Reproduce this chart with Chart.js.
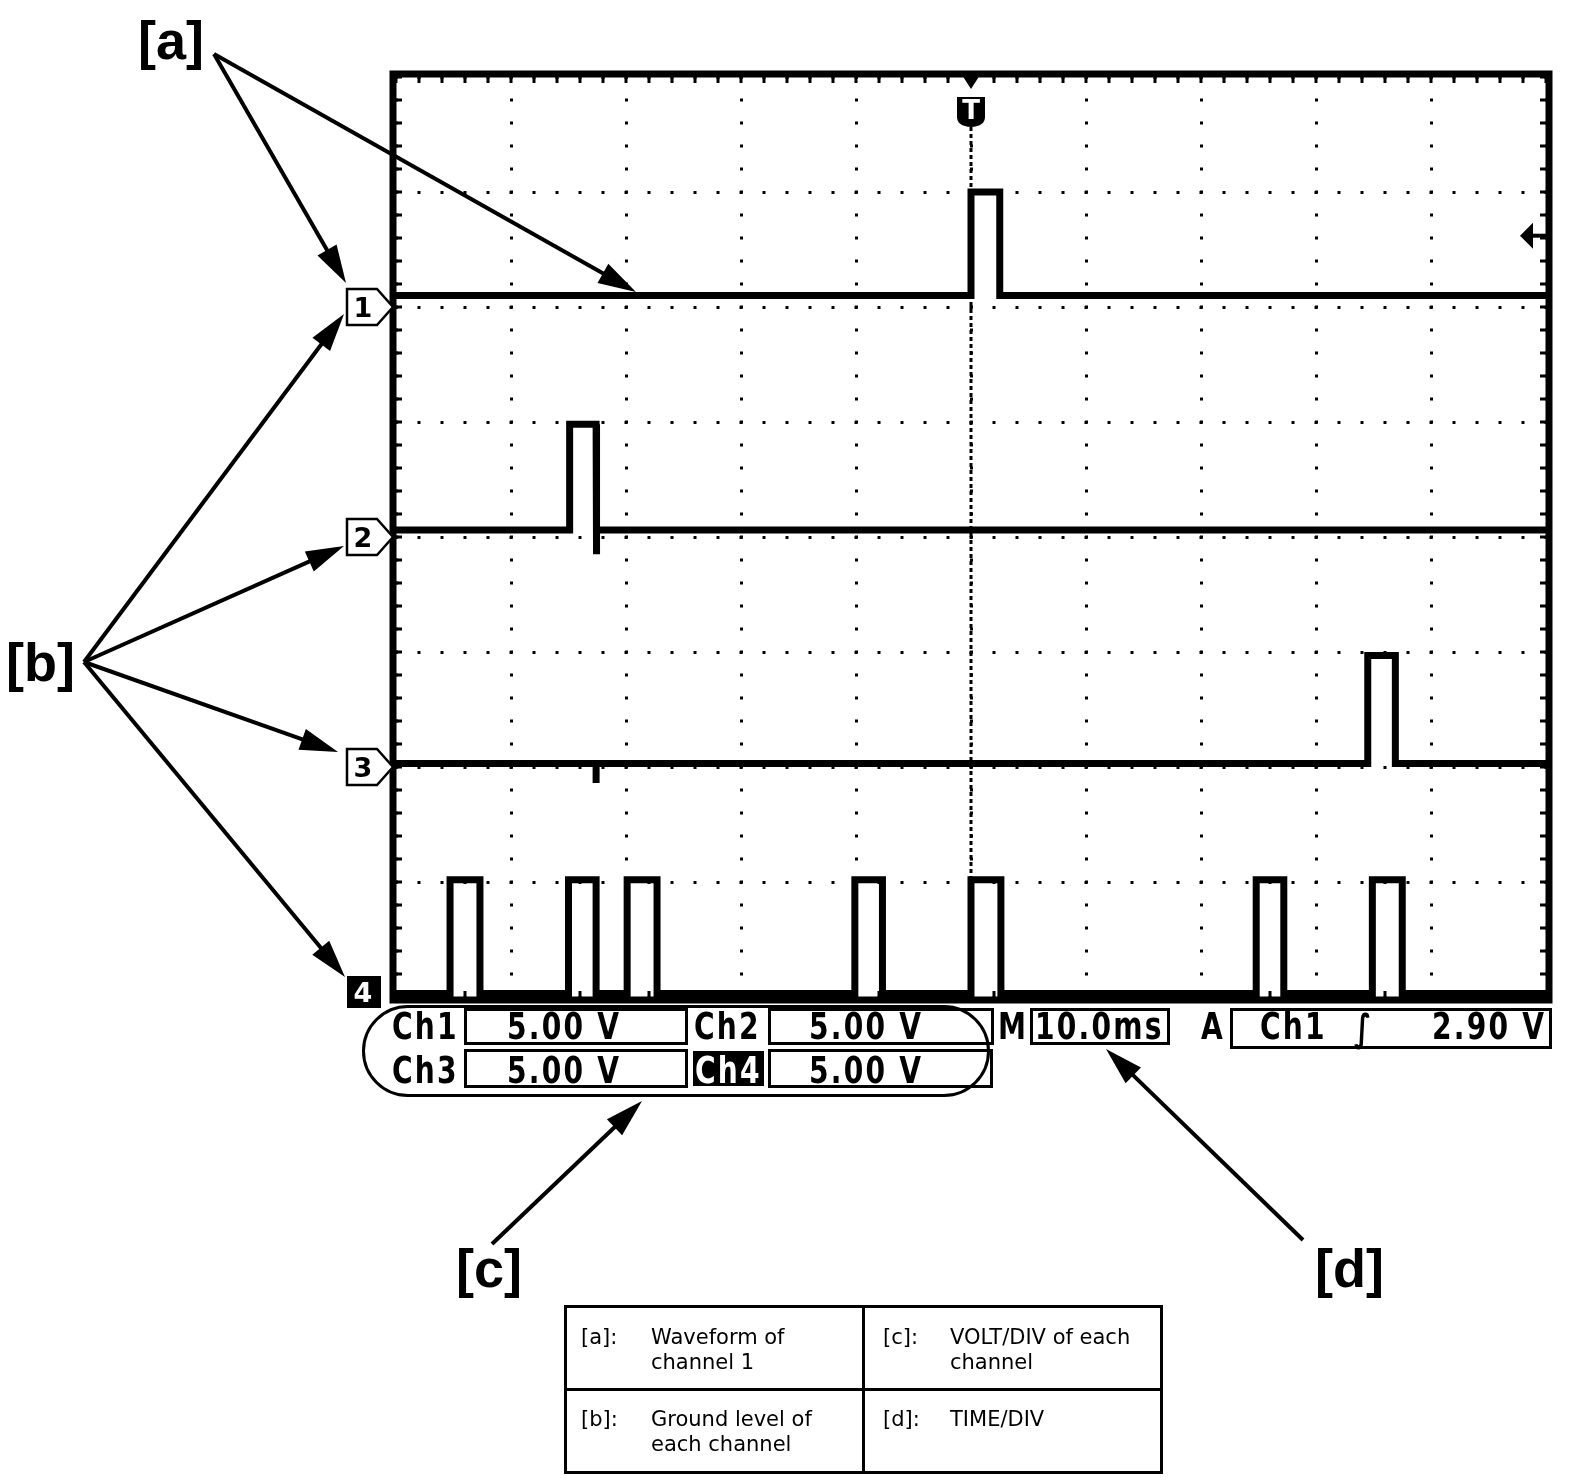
<!DOCTYPE html>
<html>
<head>
<meta charset="utf-8">
<script src="https://cdn.jsdelivr.net/npm/chart.js@4.4.1/dist/chart.umd.min.js"></script>
<style>
  html, body { margin: 0; padding: 0; background: #fff; }
  #wrap { position: relative; width: 1584px; height: 1482px; overflow: hidden; background: #fff; }
  #scope { position: absolute; left: 0; top: 0; width: 1584px; height: 1482px; }
  .txt { position: absolute; white-space: pre; line-height: 1; color: #000; }
  .box { position: absolute; box-sizing: border-box; border: 3px solid #000; }
  .readout { font-weight: bold; letter-spacing: 3px; transform: scaleX(0.74); transform-origin: left center; }
</style>
</head>
<body>
<div id="wrap">
  <canvas id="scope" width="1584" height="1482"></canvas>
</div>
<script>
// Scope capture: 4 channels at 5 V/div, 10 ms/div, trigger on Ch1 rising edge

// x = ms from trigger point, y = screen divisions counted from the bottom
const timeMin = -50;
const timeMax = 50;
const timeStep = 10;
const divMin = 0;
const divMax = 8;

const groundDivs = [6.1, 4.06, 2.03, 0.03];   // trace level when low
const highDivs = [7.0, 4.98, 2.97, 1.02];     // trace level when high
const markerDivs = [6, 4, 2, 0];              // ground markers on the left edge

const ch1Rise = [0.0];
const ch1Fall = [2.5];
const ch2Rise = [-34.9];
const ch2Fall = [-32.6];
const ch3Rise = [34.5];
const ch3Fall = [36.9];
const ch4Rise = [-45.3, -35.0, -29.9, -10.1, 0.0, 24.8, 34.9];
const ch4Fall = [-42.7, -32.6, -27.3, -7.7, 2.6, 27.2, 37.5];

// short spikes under the ground line: [time, level]
const ch2Spikes = [[-32.55, 3.85]];
const ch3Spikes = [[-32.6, 1.86]];

const triggerTime = 0;
const triggerLevelDiv = 6.62;

const channelLabels = ['Ch1', 'Ch2', 'Ch3', 'Ch4'];
const voltsPerDiv = ['5.00 V', '5.00 V', '5.00 V', '5.00 V'];
const timePerDiv = '10.0ms';
const triggerSource = 'Ch1';
const triggerLevel = '2.90 V';

const legendKeys = ['[a]:', '[c]:', '[b]:', '[d]:'];
const legendTexts = ['Waveform of\nchannel 1', 'VOLT/DIV of each\nchannel', 'Ground level of\neach channel', 'TIME/DIV'];

const wrap = document.getElementById('wrap');

function buildTrace(ground, high, rises, falls, spikes) {
    const events = [];
    rises.forEach((r, i) => {
        events.push({ t: r, pts: [[r, ground], [r, high], [falls[i], high], [falls[i], ground]] });
    });
    (spikes || []).forEach(([t, low]) => {
        events.push({ t: t, pts: [[t, ground], [t, low], [t, ground]] });
    });
    events.sort((a, b) => a.t - b.t);

    const data = [{ x: timeMin, y: ground }];
    events.forEach(e => e.pts.forEach(([x, y]) => data.push({ x: x, y: y })));
    data.push({ x: timeMax, y: ground });
    return data;
}

function traceDataset(label, data, width) {
    return {
        label: label,
        data: data,
        borderColor: '#000',
        borderWidth: width,
        pointRadius: 0,
        tension: 0,
        fill: false
    };
}

// text placed by its baseline
function addText(str, x, base, size, opt = {}) {
    const d = document.createElement('div');
    d.className = 'txt' + (opt.readout ? ' readout' : '');
    d.textContent = str;
    d.style.fontSize = size + 'px';
    d.style.fontFamily = opt.family || '"DejaVu Sans", sans-serif';
    if (opt.bold) d.style.fontWeight = 'bold';
    if (opt.color) d.style.color = opt.color;
    d.style.top = (base - 0.846 * size) + 'px';
    if (opt.center) {
        d.style.left = (x - 100) + 'px';
        d.style.width = '200px';
        d.style.textAlign = 'center';
    } else {
        d.style.left = x + 'px';
    }
    wrap.appendChild(d);
    return d;
}

function addBox(x1, y1, x2, y2, opt = {}) {
    const d = document.createElement('div');
    d.className = 'box';
    d.style.left = x1 + 'px';
    d.style.top = y1 + 'px';
    d.style.width = (x2 - x1) + 'px';
    d.style.height = (y2 - y1) + 'px';
    if (opt.fill) d.style.background = opt.fill;
    if (opt.radius) d.style.borderRadius = opt.radius + 'px';
    if (opt.border !== undefined) d.style.borderWidth = opt.border + 'px';
    wrap.appendChild(d);
    return d;
}

function drawArrow(ctx, x1, y1, x2, y2) {
    const ang = Math.atan2(y2 - y1, x2 - x1);
    const len = 38, half = 11;
    const bx = x2 - len * Math.cos(ang);
    const by = y2 - len * Math.sin(ang);
    ctx.lineWidth = 4;
    ctx.beginPath();
    ctx.moveTo(x1, y1);
    ctx.lineTo(bx + 4 * Math.cos(ang), by + 4 * Math.sin(ang));
    ctx.stroke();
    ctx.beginPath();
    ctx.moveTo(x2, y2);
    ctx.lineTo(bx + half * Math.sin(ang), by - half * Math.cos(ang));
    ctx.lineTo(bx - half * Math.sin(ang), by + half * Math.cos(ang));
    ctx.closePath();
    ctx.fill();
}

// annotation arrows: [from, to] in page pixels
const annotationArrows = [
    [214, 54, 346, 283],
    [214, 54, 636, 292],
    [84, 662, 344, 314],
    [84, 662, 344, 546],
    [84, 662, 338, 752],
    [84, 662, 345, 977],
    [492, 1244, 642, 1101],
    [1303, 1240, 1106, 1049]
];

const scopeDecor = {
    id: 'scopeDecor',
    beforeDatasetsDraw(chart) {
        const ctx = chart.ctx;
        const area = chart.chartArea;
        const tx = chart.scales.x.getPixelForValue(triggerTime);
        // dense dashed line at the trigger position
        ctx.save();
        ctx.strokeStyle = '#000';
        ctx.lineWidth = 3;
        ctx.setLineDash([4, 3]);
        ctx.beginPath();
        ctx.moveTo(tx, area.top + 50);
        ctx.lineTo(tx, area.bottom);
        ctx.stroke();
        ctx.restore();
    },
    afterDatasetsDraw(chart) {
        const ctx = chart.ctx;
        const area = chart.chartArea;
        const xs = chart.scales.x;
        const ys = chart.scales.y;
        ctx.save();
        ctx.strokeStyle = '#000';
        ctx.fillStyle = '#000';

        // minor ticks on the inner side of the frame, 5 per division
        const minorX = (xs.right - xs.left) / ((timeMax - timeMin) / timeStep * 5);
        const minorY = (ys.bottom - ys.top) / ((divMax - divMin) * 5);
        ctx.lineWidth = 3;
        ctx.beginPath();
        for (let x = area.left; x <= area.right + 1; x += minorX) {
            ctx.moveTo(x, area.top); ctx.lineTo(x, area.top + 6);
            ctx.moveTo(x, area.bottom); ctx.lineTo(x, area.bottom - 6);
        }
        for (let y = area.top; y <= area.bottom + 1; y += minorY) {
            ctx.moveTo(area.left, y); ctx.lineTo(area.left + 6, y);
            ctx.moveTo(area.right, y); ctx.lineTo(area.right - 6, y);
        }
        ctx.stroke();

        // frame
        ctx.lineWidth = 7;
        ctx.strokeRect(area.left - 3, area.top - 3, area.right - area.left + 6, area.bottom - area.top + 6);

        // trigger position marker
        const tx = xs.getPixelForValue(triggerTime);
        ctx.beginPath();
        ctx.moveTo(tx - 9, area.top - 2);
        ctx.lineTo(tx + 9, area.top - 2);
        ctx.lineTo(tx, area.top + 12);
        ctx.closePath();
        ctx.fill();
        ctx.beginPath();
        ctx.moveTo(tx - 14, area.top + 20);
        ctx.lineTo(tx + 14, area.top + 20);
        ctx.lineTo(tx + 14, area.top + 40);
        ctx.quadraticCurveTo(tx + 14, area.top + 49, tx, area.top + 50);
        ctx.quadraticCurveTo(tx - 14, area.top + 49, tx - 14, area.top + 40);
        ctx.closePath();
        ctx.fill();

        // trigger level arrow on the right edge
        const ty = ys.getPixelForValue(triggerLevelDiv);
        ctx.beginPath();
        ctx.moveTo(area.right - 26, ty);
        ctx.lineTo(area.right - 13, ty - 13);
        ctx.lineTo(area.right - 13, ty + 13);
        ctx.closePath();
        ctx.fill();
        ctx.lineWidth = 4;
        ctx.beginPath();
        ctx.moveTo(area.right - 16, ty);
        ctx.lineTo(area.right, ty);
        ctx.stroke();

        // ground markers
        markerDivs.forEach((d, i) => {
            const cy = Math.min(ys.getPixelForValue(d), area.bottom - 5);
            if (i === 3) {
                ctx.fillRect(347, cy - 16, 34, 32);
                return;
            }
            ctx.beginPath();
            ctx.moveTo(347, cy - 18);
            ctx.lineTo(377, cy - 18);
            ctx.lineTo(393, cy);
            ctx.lineTo(377, cy + 18);
            ctx.lineTo(347, cy + 18);
            ctx.closePath();
            ctx.fillStyle = '#fff';
            ctx.fill();
            ctx.lineWidth = 2.5;
            ctx.stroke();
            ctx.fillStyle = '#000';
        });

        // annotation arrows
        annotationArrows.forEach(a => drawArrow(ctx, a[0], a[1], a[2], a[3]));
        ctx.restore();
    }
};

const chart = new Chart(document.getElementById('scope'), {
    type: 'line',
    data: {
        datasets: [
            traceDataset(channelLabels[0], buildTrace(groundDivs[0], highDivs[0], ch1Rise, ch1Fall), 7),
            traceDataset(channelLabels[1], buildTrace(groundDivs[1], highDivs[1], ch2Rise, ch2Fall, ch2Spikes), 7),
            traceDataset(channelLabels[2], buildTrace(groundDivs[2], highDivs[2], ch3Rise, ch3Fall, ch3Spikes), 7),
            traceDataset(channelLabels[3], buildTrace(groundDivs[3], highDivs[3], ch4Rise, ch4Fall), 7)
        ]
    },
    options: {
        responsive: false,
        animation: false,
        events: [],
        layout: {
            autoPadding: false,
            padding: { left: 396, right: 38, top: 77, bottom: 485 }
        },
        plugins: {
            legend: { display: false },
            tooltip: { enabled: false }
        },
        scales: {
            x: {
                type: 'linear',
                min: timeMin,
                max: timeMax,
                ticks: { display: false, stepSize: timeStep },
                grid: { color: '#000', lineWidth: 3, drawTicks: false },
                border: { display: false, dash: [3, 20], dashOffset: 1.5 }
            },
            y: {
                type: 'linear',
                min: divMin,
                max: divMax,
                ticks: { display: false, stepSize: 1 },
                grid: { color: '#000', lineWidth: 3, drawTicks: false },
                border: { display: false, dash: [3, 20], dashOffset: 1.5 }
            }
        }
    },
    plugins: [scopeDecor]
});

// ---- text and readouts (HTML on top of the canvas) ----
const xs = chart.scales.x;
const ys = chart.scales.y;

// marker numbers
markerDivs.forEach((d, i) => {
    const cy = Math.min(ys.getPixelForValue(d), chart.chartArea.bottom - 5);
    addText(String(i + 1), 363, cy + 10, 27, { bold: true, center: true, color: i === 3 ? '#fff' : '#000' });
});
addText('T', xs.getPixelForValue(triggerTime), chart.chartArea.top + 42, 26, { bold: true, center: true, color: '#fff' });

// annotation labels
const labelFont = '"Liberation Sans", Arial, sans-serif';
addText('[a]', 138, 59, 54, { bold: true, family: labelFont });
addText('[b]', 6, 681, 54, { bold: true, family: labelFont });
addText('[c]', 456, 1287, 54, { bold: true, family: labelFont });
addText('[d]', 1315, 1287, 54, { bold: true, family: labelFont });

// readout: VOLT/DIV block
const rf = 38;
const ro = { readout: true };
const roWhite = { readout: true, color: '#fff' };
addBox(362, 1005, 990, 1097, { radius: 46 });
addBox(464, 1008, 688, 1045);
addBox(768, 1008, 994, 1045);
addBox(464, 1049, 688, 1088);
addBox(768, 1049, 993, 1088);
addBox(693, 1051, 764, 1086, { fill: '#000' });
addText(channelLabels[0], 392, 1039, rf, ro);
addText(voltsPerDiv[0], 507, 1039, rf, ro);
addText(channelLabels[1], 694, 1039, rf, ro);
addText(voltsPerDiv[1], 809, 1039, rf, ro);
addText(channelLabels[2], 392, 1083, rf, ro);
addText(voltsPerDiv[2], 507, 1083, rf, ro);
addText(channelLabels[3], 695, 1083, rf, roWhite);
addText(voltsPerDiv[3], 809, 1083, rf, ro);

// readout: TIME/DIV and trigger
addText('M', 998, 1039, rf, ro);
addBox(1030, 1008, 1170, 1045);
addText(timePerDiv, 1035, 1039, rf, ro);
addText('A', 1201, 1039, rf, ro);
addBox(1230, 1008, 1552, 1049);
addText(triggerSource, 1260, 1039, rf, ro);
addText('\u222B', 1354, 1041, rf, ro);
addText(triggerLevel, 1432, 1039, rf, ro);

// key table
addBox(564, 1305, 1163, 1474);
addBox(862, 1305, 865, 1474, { border: 0, fill: '#000' });
addBox(564, 1388, 1163, 1391, { border: 0, fill: '#000' });
const keyCols = [[581, 651], [883, 950]];
const keyRows = [1345, 1427];
legendKeys.forEach((k, i) => {
    const col = keyCols[i % 2];
    const base = keyRows[Math.floor(i / 2)];
    addText(k, col[0], base, 21);
    legendTexts[i].split('\n').forEach((line, j) => addText(line, col[1], base + 25 * j, 21));
});
</script>
</body>
</html>
